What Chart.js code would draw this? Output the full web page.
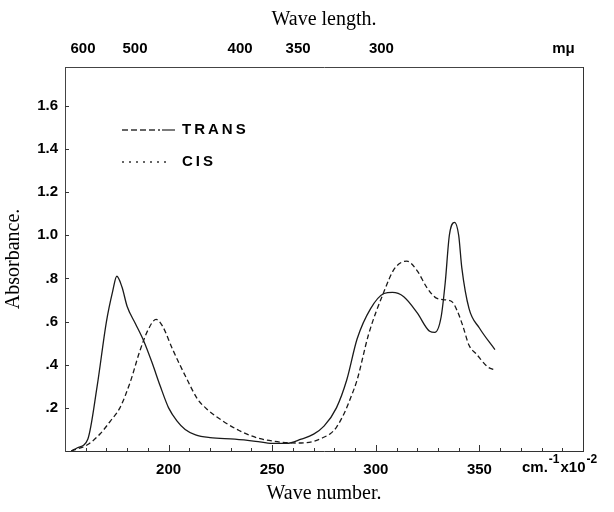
<!DOCTYPE html>
<html>
<head>
<meta charset="utf-8">
<script src="https://cdn.jsdelivr.net/npm/chart.js@4.4.0/dist/chart.umd.min.js"></script>
<style>
  html, body { margin: 0; padding: 0; background: #fff; }
</style>
</head>
<body>
<canvas id="spectrum" width="614" height="512"></canvas>
<script>
const seriesNames = ['TRANS', 'CIS']

// wave number (cm-1 x 10-2) / absorbance
const transWaveNumber = [153, 156, 161, 165.5, 170, 173, 175, 177.5, 180, 184, 188, 192, 196, 200, 204, 208, 213, 220, 232, 242, 250, 257, 264, 270, 275, 281, 286, 291, 297.5, 304, 308, 313.5, 320, 326, 328.5, 331.5, 333.5, 335.5, 338, 340, 341.5, 345, 350, 357.5]
const transAbsorbance = [0, 0.015, 0.055, 0.3, 0.6, 0.74, 0.81, 0.76, 0.67, 0.59, 0.51, 0.41, 0.3, 0.2, 0.14, 0.1, 0.075, 0.062, 0.055, 0.045, 0.035, 0.035, 0.055, 0.078, 0.115, 0.2, 0.33, 0.52, 0.66, 0.73, 0.735, 0.715, 0.64, 0.555, 0.55, 0.62, 0.78, 1.0, 1.06, 1.0, 0.85, 0.66, 0.57, 0.47]

const cisWaveNumber = [153, 161, 167, 172, 176.5, 181.5, 186, 190, 194, 197, 202, 209, 214, 219, 226, 234, 243, 251, 258, 264, 270, 274, 278, 281, 285, 288, 291, 296.5, 304, 309, 315, 320, 324.5, 329, 334, 337, 339.5, 342, 345, 348.5, 354, 357.5]
const cisAbsorbance = [0, 0.03, 0.08, 0.14, 0.2, 0.32, 0.46, 0.56, 0.61, 0.58, 0.47, 0.33, 0.24, 0.19, 0.14, 0.095, 0.06, 0.045, 0.038, 0.037, 0.045, 0.06, 0.08, 0.11, 0.18, 0.25, 0.33, 0.54, 0.74, 0.845, 0.88, 0.835, 0.76, 0.71, 0.7, 0.69, 0.645, 0.58, 0.49, 0.45, 0.39, 0.375]

const xTicks = [200, 250, 300, 350]
const xMinorTicks = [160, 170, 180, 190, 200, 210, 220, 230, 240, 250, 260, 270, 280, 290, 300, 310, 320, 330, 340, 350, 360, 370, 380, 390]
const yTicks = [0.2, 0.4, 0.6, 0.8, 1.0, 1.2, 1.4, 1.6]
const yTickLabels = ['.2', '.4', '.6', '.8', '1.0', '1.2', '1.4', '1.6']
// wave length labels along the top edge, placed where the plate prints them
const topTicks = [158.7, 183.8, 234.5, 262.5, 302.7, 390.6]
const topTickLabels = ['600', '500', '400', '350', '300', 'mμ']

const toPoints = (xs, ys) => xs.map((x, i) => ({ x, y: ys[i] }))

const tickFont = { family: 'Liberation Sans', size: 15, weight: 'bold' }
const titleFont = { family: 'Liberation Serif', size: 20 }

const decorations = {
  id: 'decorations',
  afterDraw(chart) {
    const { ctx, chartArea: a, scales } = chart
    ctx.save()
    ctx.strokeStyle = '#333'
    ctx.lineWidth = 1
    ctx.beginPath()
    xMinorTicks.forEach(v => {
      const px = Math.round(scales.x.getPixelForValue(v)) + 0.5
      const len = v % 50 === 0 ? 6 : 3
      ctx.moveTo(px, a.bottom)
      ctx.lineTo(px, a.bottom - len)
    })
    yTicks.forEach(v => {
      const py = Math.round(scales.y.getPixelForValue(v)) + 0.5
      ctx.moveTo(a.left, py)
      ctx.lineTo(a.left + 4, py)
    })
    ctx.stroke()

    // unit of the wave number axis
    ctx.fillStyle = '#000'
    ctx.textBaseline = 'middle'
    ctx.textAlign = 'left'
    let x = 522
    const part = (text, size, dy) => {
      ctx.font = 'bold ' + size + 'px "Liberation Sans"'
      ctx.fillText(text, x, 468 + dy)
      x += ctx.measureText(text).width + 1
    }
    part('cm.', 15, 0)
    part('-1', 12, -8)
    part('x10', 15, 0)
    part('-2', 12, -8)

    // legend
    const items = [
      { y: 130, dash: [6, 3], solidEnd: true },
      { y: 162, dash: [2, 5], solidEnd: false }
    ]
    ctx.font = 'bold 15px "Liberation Sans"'
    ctx.letterSpacing = '3px'
    items.forEach((it, i) => {
      ctx.beginPath()
      ctx.setLineDash(it.dash)
      ctx.lineWidth = 1.3
      ctx.moveTo(122, it.y)
      ctx.lineTo(it.solidEnd ? 160 : 170, it.y)
      ctx.stroke()
      if (it.solidEnd) {
        ctx.setLineDash([])
        ctx.beginPath()
        ctx.moveTo(162, it.y)
        ctx.lineTo(175, it.y)
        ctx.stroke()
      }
      ctx.fillText(seriesNames[i], 182, it.y)
    })
    ctx.restore()
  }
}

new Chart(document.getElementById('spectrum').getContext('2d'), {
  type: 'line',
  data: {
    datasets: [
      {
        label: seriesNames[0],
        data: toPoints(transWaveNumber, transAbsorbance),
        borderColor: '#1a1a1a',
        borderWidth: 1.3,
        pointRadius: 0,
        cubicInterpolationMode: 'monotone'
      },
      {
        label: seriesNames[1],
        data: toPoints(cisWaveNumber, cisAbsorbance),
        borderColor: '#1a1a1a',
        borderWidth: 1.3,
        borderDash: [5, 3],
        pointRadius: 0,
        cubicInterpolationMode: 'monotone'
      }
    ]
  },
  options: {
    responsive: false,
    animation: false,
    layout: { padding: { left: 0, right: 31, top: 0, bottom: 0 } },
    plugins: {
      legend: { display: false },
      tooltip: { enabled: false }
    },
    scales: {
      x: {
        type: 'linear',
        position: 'bottom',
        min: 150,
        max: 400,
        afterBuildTicks: s => { s.ticks = xTicks.map(v => ({ value: v })) },
        afterFit: s => { s.height = 61 },
        grid: { display: false, drawTicks: false },
        border: { display: true, color: '#333', width: 1 },
        ticks: {
          color: '#000',
          font: tickFont,
          padding: 10,
          maxRotation: 0,
          callback: (v, i) => String(xTicks[i])
        },
        title: { display: true, text: 'Wave number.', color: '#000', font: titleFont, padding: { top: 0, bottom: 6 } }
      },
      x2: {
        type: 'linear',
        position: 'top',
        min: 150,
        max: 400,
        afterBuildTicks: s => { s.ticks = topTicks.map(v => ({ value: v })) },
        afterFit: s => { s.height = 67 },
        grid: { display: false, drawTicks: false },
        border: { display: true, color: '#444', width: 1, dash: [3, 2] },
        ticks: {
          color: '#000',
          font: tickFont,
          padding: 9,
          maxRotation: 0,
          autoSkip: false,
          callback: (v, i) => topTickLabels[i]
        },
        title: { display: true, text: 'Wave length.', color: '#000', font: titleFont, padding: { top: 8, bottom: 0 } }
      },
      y: {
        min: 0,
        max: 1.78,
        afterBuildTicks: s => { s.ticks = yTicks.map(v => ({ value: v })) },
        afterFit: s => { s.width = 65 },
        grid: { display: false, drawTicks: false },
        border: { display: true, color: '#444', width: 1, dash: [4, 2] },
        ticks: {
          color: '#000',
          font: tickFont,
          padding: 7,
          autoSkip: false,
          callback: (v, i) => yTickLabels[i]
        },
        title: { display: true, text: 'Absorbance.', color: '#000', font: titleFont, padding: { top: 2, bottom: 0 } }
      },
      y2: {
        position: 'right',
        min: 0,
        max: 1.78,
        afterFit: s => { s.width = 0 },
        grid: { display: false, drawTicks: false },
        border: { display: true, color: '#333', width: 1 },
        ticks: { display: false }
      }
    }
  },
  plugins: [decorations]
})
</script>
</body>
</html>
